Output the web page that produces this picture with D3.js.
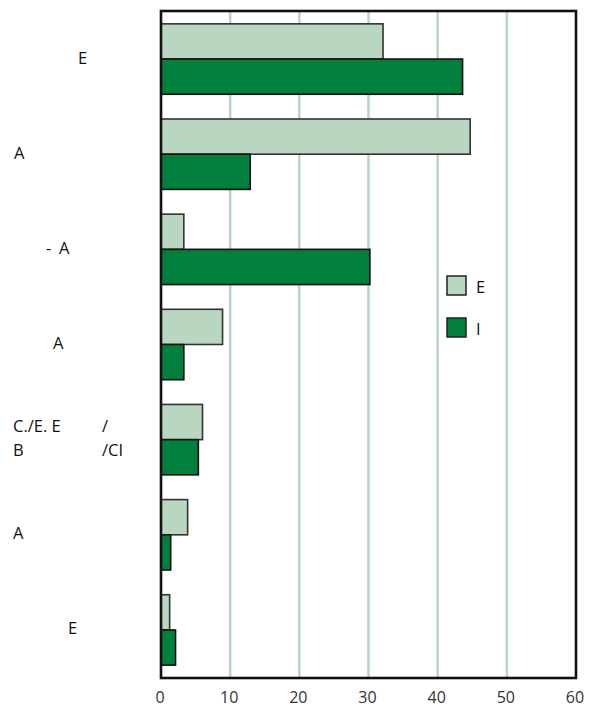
<!DOCTYPE html>
<html>
<head>
<meta charset="utf-8">
<script src="https://cdn.jsdelivr.net/npm/d3@7"></script>
<style>
  html, body { margin: 0; padding: 0; background: #fff; }
  svg { display: block; font-family: "Open Sans", "Noto Sans", sans-serif; }
</style>
</head>
<body>
<svg id="chart" width="598" height="708"></svg>
<script>
// ---- data ----
const categories = ["E", "A", "-A", "A", "C./E. E / B /CI", "A", "E"];
const seriesNames = ["E", "I"];
const seriesE = [32.1, 44.7, 3.3, 8.9, 6.0, 3.85, 1.25];
const seriesI = [43.6, 12.9, 30.2, 3.3, 5.4, 1.4, 2.1];
const xTicks = [0, 10, 20, 30, 40, 50, 60];
const gridValues = [10, 20, 30, 40, 50];

// ---- layout ----
const colors = ["#b9d6c1", "#00803c"];
const plot = { left: 161, top: 11, right: 576, bottom: 678 };
// label segments for each category: [text, x, lineIndex]
const labelSegments = [
  [["E", 78, 0]],
  [["A", 14, 0]],
  [["-", 46, 0], ["A", 59, 0]],
  [["A", 53, 0]],
  [["C./E. E", 13, 0], ["/", 102, 0], ["B", 13, 1], ["/CI", 102, 1]],
  [["A", 13, 0]],
  [["E", 68, 0]]
];

const svg = d3.select("#chart");

const x = d3.scaleLinear().domain([0, 60]).range([plot.left, plot.right]);
const y = d3.scaleBand().domain(d3.range(categories.length))
  .range([plot.top, plot.bottom]).paddingInner(0.26).paddingOuter(0.135);
const ySub = d3.scaleBand().domain([0, 1]).range([0, y.bandwidth()]);

// grid lines
svg.append("g").selectAll("line").data(gridValues).join("line")
  .attr("x1", d => x(d)).attr("x2", d => x(d))
  .attr("y1", plot.top).attr("y2", plot.bottom)
  .attr("stroke", "#b9d6c1").attr("stroke-width", 2.5);

// bars
const rows = categories.map((c, i) => ({ i, vals: [seriesE[i], seriesI[i]] }));
const g = svg.append("g");
rows.forEach(r => {
  r.vals.forEach((v, s) => {
    g.append("rect")
      .attr("x", x(0))
      .attr("y", y(r.i) + ySub(s))
      .attr("width", x(v) - x(0))
      .attr("height", ySub.bandwidth())
      .attr("fill", colors[s])
      .attr("stroke", s === 0 ? "#333" : "#111")
      .attr("stroke-width", 1.6);
  });
});

// frame
svg.append("rect")
  .attr("x", plot.left).attr("y", plot.top)
  .attr("width", plot.right - plot.left).attr("height", plot.bottom - plot.top)
  .attr("fill", "none").attr("stroke", "#111").attr("stroke-width", 2.6);

// x axis tick labels
const xAxis = d3.axisBottom(x).tickValues(xTicks).tickSize(0).tickPadding(0);
const ax = svg.append("g").attr("transform", `translate(0,${plot.bottom})`).call(xAxis);
ax.select(".domain").remove();
ax.selectAll("text").attr("font-size", 16).attr("fill", "#333")
  .attr("dy", null).attr("y", 25)
  .attr("dx", -1.5)
  .attr("font-family", "'Open Sans', sans-serif");

// category labels
labelSegments.forEach((segs, i) => {
  const nLines = d3.max(segs, s => s[2]) + 1;
  const lineH = 23.4;
  const c = y(i) + y.bandwidth() / 2;
  segs.forEach(([t, lx, li]) => {
    svg.append("text")
      .attr("x", lx)
      .attr("y", c + 4.5 + (li - (nLines - 1) / 2) * lineH)
      .attr("font-size", 16.5)
      .attr("fill", "#111")
      .text(t);
  });
});

// legend
const legend = svg.append("g");
seriesNames.forEach((n, s) => {
  const ly = 276 + s * 42;
  legend.append("rect").attr("x", 447).attr("y", ly).attr("width", 19).attr("height", 19)
    .attr("fill", colors[s]).attr("stroke", "#222").attr("stroke-width", 1.5);
  legend.append("text").attr("x", 476).attr("y", ly + 17)
    .attr("font-size", 16.5).attr("fill", "#111").text(n);
});
</script>
</body>
</html>
